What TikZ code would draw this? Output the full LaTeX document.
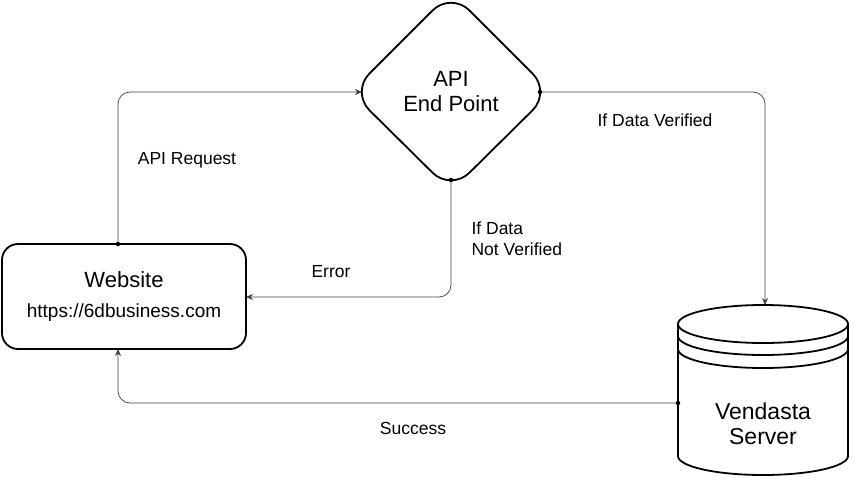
\documentclass[tikz,border=0pt]{standalone}
\usepackage{fontspec}
\setmainfont{Liberation Sans}
\usetikzlibrary{arrows.meta}
\begin{document}
\begin{tikzpicture}[x=1pt,y=-1pt,
  shape line/.style={line width=1.8pt,line join=round},
  conn/.style={line width=0.7pt,draw=black!75,rounded corners=12pt},
  arr/.style={conn,-{Stealth[length=7pt,width=6pt]}},
  dot/.style={circle,fill=black,inner sep=0pt,minimum size=4.5pt},
  lbl/.style={font=\fontsize{17.5}{21}\selectfont,align=left}]
\useasboundingbox (0,0) rectangle (856,482);
% diamond
\coordinate (dT) at (451,3); \coordinate (dB) at (451,180);
\coordinate (dL) at (362,92); \coordinate (dR) at (540,92);
\draw[shape line,rounded corners=26pt] (451,-8) -- (551,92) -- (451,191) -- (351,92) -- cycle;
\node[align=center,font=\fontsize{22}{25}\selectfont] (api) at (451,92) {API\\End Point};
% website
\node[draw,shape line,rounded corners=16pt,minimum width=244pt,minimum height=105pt,
  align=center,font=\fontsize{22}{30}\selectfont] (web) at (124,296.5)
  {Website\\\fontsize{19}{20}\selectfont https://6dbusiness.com};
% cylinder
\coordinate (cT) at (765,305); \coordinate (cL) at (678,403);
\draw[shape line,fill=white] (678,324) -- (678,456) arc[start angle=180,end angle=0,x radius=85,y radius=19]
  -- (848,324) arc[start angle=0,end angle=-180,x radius=85,y radius=19] -- cycle;
\draw[shape line] (678,324) arc[start angle=180,end angle=0,x radius=85,y radius=19];
\draw[shape line] (678,336) arc[start angle=180,end angle=0,x radius=85,y radius=19];
\draw[shape line] (678,349) arc[start angle=180,end angle=0,x radius=85,y radius=19];
\node[align=center,font=\fontsize{23}{25}\selectfont] (srv) at (763,424) {Vendasta\\Server};
% connectors
\coordinate (wT) at (118,244); \coordinate (wB) at (118,349); \coordinate (wR) at (246,297);
\draw[arr] (wT) -- (118,92) -- (dL);
\draw[arr] (dR) -- (765,92) -- (cT);
\draw[arr] (dB) -- (451,297) -- (wR);
\draw[arr] (cL) -- (118,403) -- (wB);
\node[dot] at (wT) {}; \node[dot] at (dR) {}; \node[dot] at (dB) {}; \node[dot] at (cL) {};
% labels
\node[lbl] (l1) at (187,160) {API Request};
\node[lbl] (l2) at (655,120) {If Data Verified};
\node[lbl,anchor=west] (l3) at (468,239) {If Data\\Not Verified};
\node[lbl] (l4) at (331,272) {Error};
\node[lbl] (l5) at (413,428) {Success};
\end{tikzpicture}
\end{document}
